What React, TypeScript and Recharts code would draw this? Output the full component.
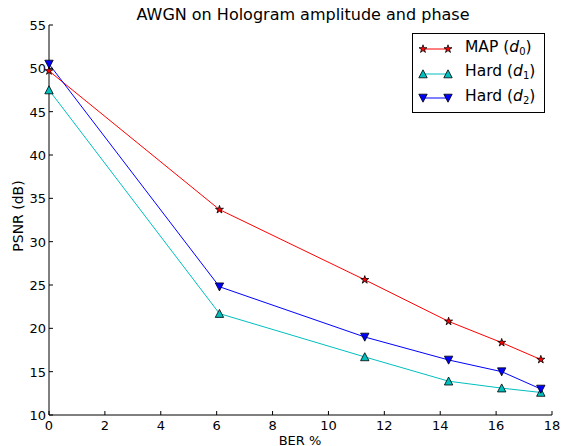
import { LineChart, Line, XAxis, YAxis, Legend } from 'recharts';

// values
const ber = [0, 6.1, 11.3, 14.3, 16.2, 17.6];
const mapD0 = [49.7, 33.7, 25.6, 20.8, 18.35, 16.4];
const hardD1 = [47.5, 21.7, 16.7, 13.9, 13.1, 12.6];
const hardD2 = [50.5, 24.8, 19.0, 16.35, 15.0, 13.0];

const xTicks = [0, 2, 4, 6, 8, 10, 12, 14, 16, 18];
const yTicks = [10, 15, 20, 25, 30, 35, 40, 45, 50, 55];

const data = ber.map((b, i) => ({ ber: b, map: mapD0[i], h1: hardD1[i], h2: hardD2[i] }));

const RED = '#ff0000';
const CYAN = '#00bfbf';
const BLUE = '#0000ff';
const FONT = '"DejaVu Sans", sans-serif';

const starPath = (cx: number, cy: number, r: number) => {
  const pts = [];
  for (let i = 0; i < 10; i++) {
    const a = ((-90 + i * 36) * Math.PI) / 180;
    const rr = i % 2 === 0 ? r : r * 0.382;
    pts.push(`${cx + rr * Math.cos(a)},${cy + rr * Math.sin(a)}`);
  }
  return 'M' + pts.join('L') + 'Z';
};

const Star = ({ cx, cy }: any) => (
  <path d={starPath(cx, cy, 4.2)} fill={RED} stroke="#000" strokeWidth={0.8} />
);
const TriUp = ({ cx, cy }: any) => (
  <path d={`M${cx},${cy - 4.2}L${cx + 4.2},${cy + 3.8}L${cx - 4.2},${cy + 3.8}Z`} fill={CYAN} stroke="#000" strokeWidth={0.8} />
);
const TriDown = ({ cx, cy }: any) => (
  <path d={`M${cx},${cy + 4.2}L${cx + 4.2},${cy - 3.8}L${cx - 4.2},${cy - 3.8}Z`} fill={BLUE} stroke="#000" strokeWidth={0.8} />
);

// matplotlib style: ticks pointing into the plot
const BottomTick = ({ x, y, payload }: any) => (
  <g>
    <line x1={x} x2={x} y1={y} y2={y - 4} stroke="#000" />
    <text x={x} y={y + 15} textAnchor="middle" fontSize={13} fontFamily={FONT} fill="#000">{payload.value}</text>
  </g>
);
const TopTick = ({ x, y }: any) => <line x1={x} x2={x} y1={y} y2={y + 4} stroke="#000" />;
const LeftTick = ({ x, y, payload }: any) => (
  <g>
    <line x1={x} x2={x + 4} y1={y} y2={y} stroke="#000" />
    <text x={x - 3} y={y + 5} textAnchor="end" fontSize={13} fontFamily={FONT} fill="#000">{payload.value}</text>
  </g>
);
const RightTick = ({ x, y }: any) => <line x1={x} x2={x - 4} y1={y} y2={y} stroke="#000" />;

const legendItems = [
  { name: 'MAP', sub: '0', color: RED, M: Star },
  { name: 'Hard', sub: '1', color: CYAN, M: TriUp },
  { name: 'Hard', sub: '2', color: BLUE, M: TriDown },
];

const LegendBox = () => (
  <div style={{ border: '1px solid #000', background: '#fff', width: 133, height: 80, boxSizing: 'border-box', fontFamily: FONT, fontSize: 15.5, paddingTop: 3 }}>
    {legendItems.map((it, i) => (
      <div key={i} style={{ display: 'flex', alignItems: 'center', height: 24.5 }}>
        <svg width={50} height={14} style={{ marginLeft: 0, flex: 'none' }}>
          <line x1={10} x2={35} y1={7} y2={7} stroke={it.color} />
          <it.M cx={10} cy={7} />
          <it.M cx={35} cy={7} />
        </svg>
        <span style={{ marginLeft: 2, whiteSpace: 'nowrap', lineHeight: '18px' }}>
          {it.name} (<i>d</i><sub style={{ fontSize: 10, verticalAlign: '-3px' }}>{it.sub}</sub>)
        </span>
      </div>
    ))}
  </div>
);

export default function App() {
  return (
    <div style={{ position: 'absolute', left: 0, top: 0, width: 564, height: 446, background: '#fff' }}>
      <div style={{ position: 'absolute', left: 303, top: 14, transform: 'translate(-50%,-50%)', fontFamily: FONT, fontSize: 16, whiteSpace: 'nowrap' }}>
        AWGN on Hologram amplitude and phase
      </div>
      <div style={{ position: 'absolute', left: 18, top: 216, transform: 'translate(-50%,-50%) rotate(-90deg)', fontFamily: FONT, fontSize: 14, whiteSpace: 'nowrap' }}>
        PSNR (dB)
      </div>
      <div style={{ position: 'absolute', left: 300, top: 440, transform: 'translate(-50%,-50%)', fontFamily: FONT, fontSize: 13, whiteSpace: 'nowrap' }}>
        BER %
      </div>
      <LineChart width={564} height={446} data={data} margin={{ top: 25, right: 12, bottom: 0, left: 0 }}>
        <XAxis dataKey="ber" type="number" domain={[0, 18]} ticks={xTicks} height={31} tickSize={0} tickMargin={0}
          tick={<BottomTick />} axisLine={{ stroke: '#000' }} interval={0} />
        <XAxis xAxisId="t" orientation="top" type="number" domain={[0, 18]} ticks={xTicks} height={0} tickSize={0} tickMargin={0}
          tick={<TopTick />} axisLine={{ stroke: '#000' }} interval={0} />
        <YAxis type="number" domain={[10, 55]} ticks={yTicks} width={49} tickSize={0} tickMargin={0}
          tick={<LeftTick />} axisLine={{ stroke: '#000' }} interval={0} />
        <YAxis yAxisId="r" orientation="right" type="number" domain={[10, 55]} ticks={yTicks} width={0} tickSize={0} tickMargin={0}
          tick={<RightTick />} axisLine={{ stroke: '#000' }} interval={0} />
        <Legend layout="vertical" align="center" verticalAlign="middle" content={<LegendBox />}
          wrapperStyle={{ position: 'absolute', left: 412, top: 33, width: 133, height: 80 }} />
        <Line dataKey="map" stroke={RED} strokeWidth={1} isAnimationActive={false}
          dot={(p: any) => <Star key={p.index} cx={p.cx} cy={p.cy} />} />
        <Line dataKey="h1" stroke={CYAN} strokeWidth={1} isAnimationActive={false}
          dot={(p: any) => <TriUp key={p.index} cx={p.cx} cy={p.cy} />} />
        <Line dataKey="h2" stroke={BLUE} strokeWidth={1} isAnimationActive={false}
          dot={(p: any) => <TriDown key={p.index} cx={p.cx} cy={p.cy} />} />
      </LineChart>
    </div>
  );
}
